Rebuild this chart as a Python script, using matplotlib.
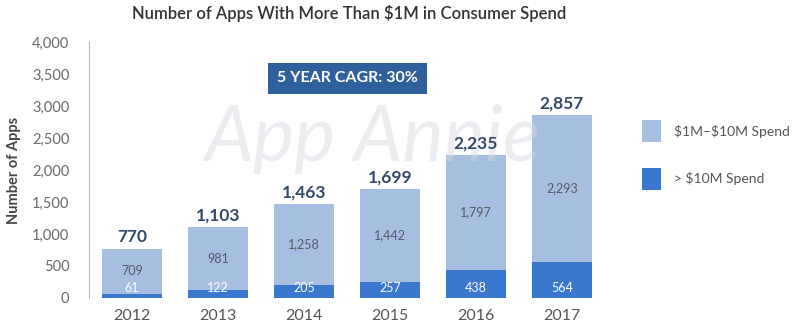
import numpy as np
import matplotlib.pyplot as plt

years = ['2012', '2013', '2014', '2015', '2016', '2017']
big_spend = [61, 122, 205, 257, 438, 564]          # > $10M
mid_spend = [709, 981, 1258, 1442, 1797, 2293]     # $1M-$10M
totals = [770, 1103, 1463, 1699, 2235, 2857]

light = '#a6bee0'
dark = '#3a77cf'
navy = '#34496a'

plt.rcParams['font.family'] = ['Lato', 'DejaVu Sans']

fig = plt.figure(figsize=(8, 3.28), dpi=100)
ax = fig.add_axes([0.111, 0.0915, 0.645, 0.7805])

x = np.arange(len(years))
ax.bar(x, big_spend, width=0.7, color=dark, label='> \\$10M Spend', zorder=2)
ax.bar(x, mid_spend, width=0.7, bottom=big_spend, color=light,
       label='\\$1M\u2013\\$10M Spend', zorder=2)

# faint watermark, drawn over the bars
ax.text(2.8, 2480, 'App Annie', ha='center', va='center', fontsize=56,
        style='italic', color='#d5d9e0', alpha=0.45, zorder=2.5)

for i in range(len(years)):
    ax.text(x[i], 150, f'{big_spend[i]:,}', ha='center', va='center',
            color='white', fontsize=9, zorder=3)
    ax.text(x[i], big_spend[i] + mid_spend[i] / 2, f'{mid_spend[i]:,}',
            ha='center', va='center', color='#555b66', fontsize=9, zorder=3)
    ax.text(x[i], totals[i] + 60, f'{totals[i]:,}', ha='center', va='bottom',
            color=navy, fontsize=12.5, fontweight='bold', zorder=3)

ax.text(2.51, 3430, '5 YEAR CAGR: 30%', ha='center', va='center',
        color='white', fontsize=11.5, fontweight='bold', zorder=4,
        bbox=dict(boxstyle='square,pad=0.55', fc='#30609c', ec='none'))

ax.set_xlim(-0.5, 5.5)
ax.set_ylim(0, 4000)
ax.set_yticks(range(0, 4001, 500))
ax.set_yticklabels([f'{v:,}' for v in range(0, 4001, 500)])
ax.set_xticks(x)
ax.set_xticklabels(years)
ax.tick_params(axis='y', length=0, pad=14, labelsize=10.5, colors='#6a6a6a')
ax.tick_params(axis='x', length=0, pad=8, labelsize=11.5, colors='#555555')
for side in ['top', 'right', 'bottom']:
    ax.spines[side].set_visible(False)
ax.spines['left'].set_color('#bbbbbb')
ax.set_ylabel('Number of Apps', fontsize=10.5, fontweight='bold',
              color='#444444', labelpad=8)

handles, labels = ax.get_legend_handles_labels()
fig.legend(handles[::-1], labels[::-1], loc='center left',
           bbox_to_anchor=(0.802, 0.527), frameon=False, fontsize=10,
           borderpad=0, borderaxespad=0, handlelength=1.4, handleheight=2.0,
           labelspacing=1.9, handletextpad=0.9, labelcolor='#555555')

fig.suptitle('Number of Apps With More Than $1M in Consumer Spend',
             x=0.437, y=0.985, fontsize=12, color='#333333',
             fontweight='semibold')

fig.savefig('out.png', dpi=100, facecolor='white')
